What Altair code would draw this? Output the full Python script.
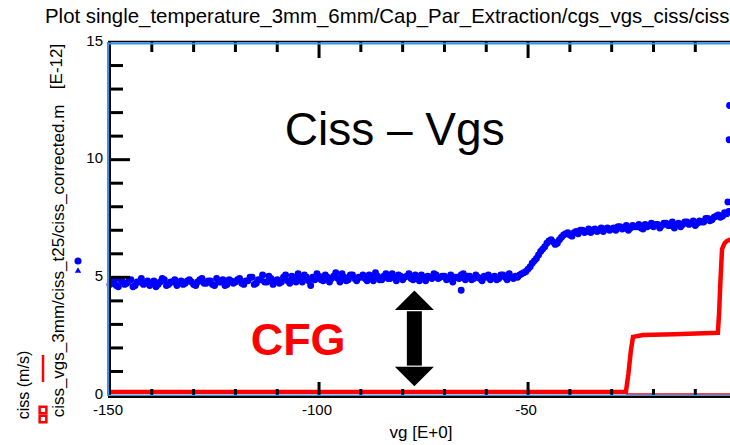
import altair as alt
import pandas as pd

# ---------------- data ----------------
vg_sweep = list(range(-150, -1))  # -150 .. -2 V
ciss_meas = [
    4.70, 4.85, 4.60, 4.80, 4.75, 4.90, 4.65, 4.80, 4.70, 4.85,
    4.75, 4.60, 4.80, 4.90, 4.70, 4.80, 4.65, 4.85, 4.75, 4.90,
    4.70, 4.80, 4.95, 4.75, 4.85, 4.65, 4.80, 4.90, 4.70, 4.85,
    4.80, 4.95, 4.70, 4.85, 5.00, 4.75, 4.90, 4.80, 5.05, 4.70,
    4.90, 4.80, 5.10, 4.75, 4.95, 5.15, 4.80, 5.00, 4.65, 4.90,
    5.05, 4.85, 5.00, 4.95, 5.20, 4.80, 5.00, 4.90, 5.10, 4.85,
    5.00, 4.95, 5.10, 4.85, 5.05, 4.90, 5.15, 4.95, 5.00, 5.10,
    4.90, 5.05, 4.95, 5.10, 4.85, 5.00, 5.05, 4.95, 5.10, 5.00,
    5.05, 4.95, 4.80, 5.00, 5.10, 4.90, 5.05, 4.95, 5.00, 4.85,
    5.00, 4.90, 5.05, 4.95, 5.10, 4.90, 5.00, 5.05, 5.10, 5.20,
    5.35, 5.60, 5.80, 6.10, 6.30, 6.55, 6.50, 6.45, 6.70, 6.85,
    6.80, 6.90, 6.85, 7.00, 6.95, 6.90, 7.05, 7.00, 6.95, 7.10,
    7.05, 7.00, 7.15, 7.10, 7.00, 7.20, 7.15, 7.10, 7.25, 7.20,
    7.15, 7.25, 7.20, 7.30, 7.20, 7.10, 7.30, 7.25, 7.35, 7.30,
    7.20, 7.40, 7.35, 7.50, 7.45, 7.60, 7.55, 7.75, 7.80,
]
vg_sweep_half = [v + 0.5 for v in range(-150, -2)]  # -149.5 .. -2.5 V
ciss_meas_half = [
    4.80, 4.65, 4.90, 4.70, 4.85, 4.60, 4.80, 4.95, 4.75, 4.65,
    4.85, 4.70, 4.95, 4.65, 4.80, 4.90, 4.75, 4.70, 4.85, 4.80,
    4.65, 4.90, 4.75, 4.85, 4.70, 4.95, 4.80, 4.65, 4.90, 4.75,
    4.90, 4.75, 4.85, 5.00, 4.70, 4.90, 5.10, 4.80, 4.95, 4.85,
    4.75, 5.00, 4.85, 5.05, 4.80, 4.95, 5.10, 4.85, 5.00, 5.15,
    4.90, 5.10, 4.80, 5.05, 4.95, 5.15, 4.85, 5.10, 4.95, 5.00,
    5.10, 4.85, 5.00, 5.20, 4.90, 5.05, 4.95, 5.15, 4.85, 5.05,
    5.00, 5.15, 4.90, 5.05, 5.10, 4.85, 5.00, 5.15, 4.95, 5.05,
    4.90, 5.10, 5.00, 4.95, 5.15, 5.05, 4.90, 5.10, 4.95, 5.05,
    5.10, 5.00, 4.90, 5.10, 5.00, 5.15, 4.95, 5.00, 5.15, 5.25,
    5.45, 5.70, 5.95, 6.20, 6.45, 6.60, 6.40, 6.60, 6.80, 6.90,
    6.75, 6.95, 7.00, 6.90, 7.05, 7.00, 6.95, 7.10, 7.05, 7.00,
    7.10, 7.15, 7.05, 7.20, 7.10, 7.15, 7.25, 7.05, 7.15, 7.30,
    7.25, 7.10, 7.30, 7.20, 7.35, 7.25, 7.15, 7.35, 7.25, 7.40,
    7.30, 7.35, 7.50, 7.40, 7.55, 7.65, 7.60, 7.70,
]
vg_extra = [-66, -2.2, -1.9, -1.8]
ciss_extra = [4.45, 8.2, 10.85, 12.3]

vg_cfg = [-150, -26.6, -26.0, -25.4, -24.9, -22.5, -15, -8, -4.6, -4.3, -4.0, -3.6, -3.0, -2.4, -1.5]
ciss_cfg = [0.13, 0.13, 0.9, 1.9, 2.47, 2.55, 2.58, 2.62, 2.64, 3.5, 4.8, 6.2, 6.45, 6.55, 6.62]

x_tick_labels = [-150, -100, -50]
y_tick_labels = [0, 5, 10, 15]
x_minor = [-140, -130, -120, -110, -90, -80, -70, -60, -40, -30, -20, -10]
x_major = [-100, -50]
y_minor = [1, 2, 3, 4, 6, 7, 8, 9, 11, 12, 13, 14]
y_major = [5, 10]

title_text = "Plot single_temperature_3mm_6mm/Cap_Par_Extraction/cgs_vgs_ciss/ciss"

# ---------------- layout ----------------
W, H = 620, 353
FONT = "Liberation Sans, Arial, sans-serif"
BLUE = "#0000ff"
RED = "#ff0000"
FRAME_BLUE = "#2b9af3"

xs = alt.Scale(domain=[-150, -1.7], nice=False, zero=False)
ys = alt.Scale(domain=[0, 15], nice=False, zero=False)

pts = pd.DataFrame({"vg": vg_sweep + vg_sweep_half + vg_extra,
                    "ciss": ciss_meas + ciss_meas_half + ciss_extra})
cfg = pd.DataFrame({"vg": vg_cfg, "ciss": ciss_cfg, "i": list(range(len(vg_cfg)))})

one = pd.DataFrame({"a": [0]})

points = alt.Chart(pts).mark_circle(size=48, color=BLUE, opacity=1).encode(
    x=alt.X("vg:Q", scale=xs, axis=None),
    y=alt.Y("ciss:Q", scale=ys, axis=None),
)

thin_red = alt.Chart(pd.DataFrame({"x": [-26.6], "x2": [-1.7], "y": [0.04]})).mark_rule(
    color=RED, strokeWidth=1.5).encode(
    x=alt.X("x:Q", scale=xs, axis=None), x2="x2:Q", y=alt.Y("y:Q", scale=ys, axis=None))

red_line = alt.Chart(cfg).mark_line(color=RED, strokeWidth=4.5).encode(
    x=alt.X("vg:Q", scale=xs, axis=None),
    y=alt.Y("ciss:Q", scale=ys, axis=None),
    order=alt.Order("i:Q"),
)

x_labels = alt.Chart(pd.DataFrame({"v": x_tick_labels, "t": [str(v) for v in x_tick_labels]})).mark_text(
    fontSize=15, font=FONT, align="center", baseline="top", color="black", dx=-2).encode(
    x=alt.X("v:Q", scale=xs, axis=None), y=alt.value(H + 8), text="t:N")
y_labels = alt.Chart(pd.DataFrame({"v": y_tick_labels, "t": [str(v) for v in y_tick_labels]})).mark_text(
    fontSize=15, font=FONT, align="right", baseline="middle", color="black", dy=-1.5).encode(
    y=alt.Y("v:Q", scale=ys, axis=None), x=alt.value(-7), text="t:N")


def hticks(vals, length):
    return alt.Chart(pd.DataFrame({"v": vals})).mark_rule(color="black", strokeWidth=3).encode(
        y=alt.Y("v:Q", scale=ys, axis=None), x=alt.value(0), x2=alt.value(length))


def vticks(vals, y0, y1, width=3):
    return alt.Chart(pd.DataFrame({"v": vals})).mark_rule(color="black", strokeWidth=width).encode(
        x=alt.X("v:Q", scale=xs, axis=None), y=alt.value(y0), y2=alt.value(y1))


def vline(x, y0, y1, color, w):
    return alt.Chart(one).mark_rule(color=color, strokeWidth=w).encode(
        x=alt.value(x), y=alt.value(y0), y2=alt.value(y1))


def hline(y, x0, x1, color, w):
    return alt.Chart(one).mark_rule(color=color, strokeWidth=w).encode(
        y=alt.value(y), x=alt.value(x0), x2=alt.value(x1))


def ptxt(s, x, y, size, angle=0, align="center", baseline="alphabetic", color="black", weight="normal"):
    kw = dict(text=s, fontSize=size, font=FONT, align=align, baseline=baseline, color=color, fontWeight=weight)
    if angle:
        kw["angle"] = angle
    return alt.Chart(one).mark_text(**kw).encode(x=alt.value(x), y=alt.value(y))


def dtxt(s, x, y, size, color="black", weight="normal"):
    return alt.Chart(pd.DataFrame({"x": [x], "y": [y]})).mark_text(
        text=s, fontSize=size, font=FONT, align="center", baseline="alphabetic",
        color=color, fontWeight=weight).encode(
        x=alt.X("x:Q", scale=xs, axis=None), y=alt.Y("y:Q", scale=ys, axis=None))


def ppoint(x, y, shape, size, color, filled=True, sw=1):
    return alt.Chart(one).mark_point(shape=shape, size=size, filled=filled, color=color,
                                     opacity=1, strokeWidth=sw).encode(x=alt.value(x), y=alt.value(y))


# arrow (in data coordinates)
arrow_x = -77.2
shaft = alt.Chart(pd.DataFrame({"x": [arrow_x], "y": [1.25], "y2": [3.56]})).mark_rule(
    color="black", strokeWidth=15).encode(
    x=alt.X("x:Q", scale=xs, axis=None), y=alt.Y("y:Q", scale=ys, axis=None), y2="y2:Q")
head_up = alt.Chart(pd.DataFrame({"x": [arrow_x], "y": [3.61]})).mark_point(
    shape="M-1,0L1,0L0,-1Z", size=1521, filled=True, color="black", opacity=1, strokeWidth=0).encode(
    x=alt.X("x:Q", scale=xs, axis=None), y=alt.Y("y:Q", scale=ys, axis=None))
head_dn = alt.Chart(pd.DataFrame({"x": [arrow_x], "y": [1.20]})).mark_point(
    shape="M-1,0L1,0L0,1Z", size=1521, filled=True, color="black", opacity=1, strokeWidth=0).encode(
    x=alt.X("x:Q", scale=xs, axis=None), y=alt.Y("y:Q", scale=ys, axis=None))

layers = [
    thin_red,
    red_line,
    points,
    # ticks
    hticks(y_minor, 13), hticks(y_major, 20),
    vticks(x_minor, 0, 10), vticks(x_major, 0, 16),
    vticks(x_minor, H, H - 6), vticks(x_major, H, H - 13),
    # frame
    vline(-2, 0, H + 1, FRAME_BLUE, 2), vline(0, -1, H + 2, "black", 2),
    hline(1.5, -2, W, FRAME_BLUE, 2), hline(-0.5, -2, W, "black", 1.5),
    hline(H + 0.5, -2, W, FRAME_BLUE, 1.5), hline(H + 2, -2, W, "black", 2),
    # tick labels
    x_labels, y_labels,
    # arrow
    shaft, head_up, head_dn,
    # annotations
    dtxt("CFG", -105.0, 1.70, 45, color=RED, weight="bold"),
    dtxt("Ciss \u2013 Vgs", -81.9, 10.62, 46),
    # title and axis texts
    ptxt(title_text, -65, -19, 20.4, align="left"),
    ptxt("vg  [E+0]", 311, 396, 17),
    ptxt("[E-12]", -53, 24.5, 17, angle=270, baseline="middle"),
    ptxt("ciss_vgs_3mm/ciss_t25/ciss_corrected.m", -51, 219, 17, angle=270, baseline="middle"),
    ptxt("ciss (m/s)", -86.5, 343, 16, angle=270, baseline="middle"),
    # legend glyphs in margin
    ppoint(-67, 368, "square", 45, RED, filled=False, sw=2.5),
    ppoint(-67, 377, "square", 45, RED, filled=False, sw=2.5),
    vline(-67, 313, 340, RED, 2.5),
    ppoint(-32, 219, "circle", 50, BLUE),
    ppoint(-32, 228, "triangle-up", 40, BLUE),
]

chart = alt.layer(*layers).properties(
    width=W, height=H,
    padding={"left": 110, "top": 42, "right": 0, "bottom": 50},
    autosize=alt.AutoSizeParams(type="none"),
    background="white",
).configure_view(stroke="transparent")

chart.save("out.html", embed_options={"renderer": "svg", "actions": False})
